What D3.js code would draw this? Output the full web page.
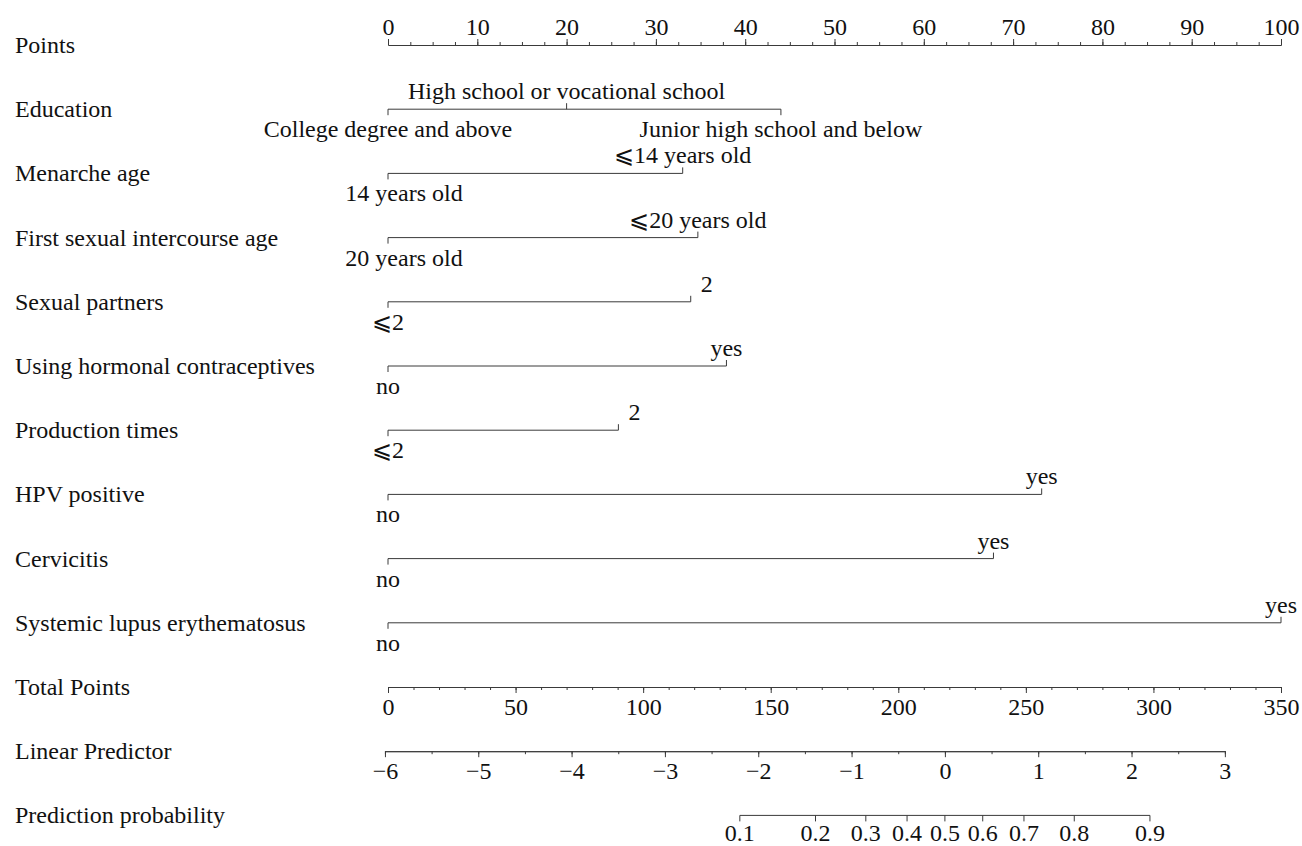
<!DOCTYPE html>
<html>
<head>
<meta charset="utf-8">
<script src="https://cdn.jsdelivr.net/npm/d3@7/dist/d3.min.js"></script>
<style>
  html, body { margin: 0; padding: 0; background: #fff; }
  svg text { font-family: "Liberation Serif", "Times New Roman", serif; fill: #111; }
</style>
</head>
<body>
<svg id="chart" width="1302" height="846"></svg>
<script>
// Nomogram: points per predictor level, total points, linear predictor, probability

const rowLabels = [
  "Points",
  "Education",
  "Menarche age",
  "First sexual intercourse age",
  "Sexual partners",
  "Using hormonal contraceptives",
  "Production times",
  "HPV positive",
  "Cervicitis",
  "Systemic lupus erythematosus",
  "Total Points",
  "Linear Predictor",
  "Prediction probability"
];

// Predictor levels: label, points, label side (above/below), hidden leading glyph
const educationLevels = [
  { label: "College degree and above", points: 0, side: "below" },
  { label: "High school or vocational school", points: 20, side: "above" },
  { label: "Junior high school and below", points: 44, side: "below" }
];
const menarcheLevels = [
  { label: "14 years old", points: 0, side: "below", pad: "\u2A7E\u2002" },
  { label: "\u2A7D14 years old", points: 33, side: "above" }
];
const firstSexLevels = [
  { label: "20 years old", points: 0, side: "below", pad: "\u2A7E\u2002" },
  { label: "\u2A7D20 years old", points: 34.7, side: "above" }
];
const partnersLevels = [
  { label: "\u2A7D2", points: 0, side: "below" },
  { label: "2", points: 33.9, side: "above", pad: "\u2A7E\u2002" }
];
const hormonalLevels = [
  { label: "no", points: 0, side: "below" },
  { label: "yes", points: 37.9, side: "above" }
];
const productionLevels = [
  { label: "\u2A7D2", points: 0, side: "below" },
  { label: "2", points: 25.8, side: "above", pad: "\u2A7E\u2002" }
];
const hpvLevels = [
  { label: "no", points: 0, side: "below" },
  { label: "yes", points: 73.2, side: "above" }
];
const cervicitisLevels = [
  { label: "no", points: 0, side: "below" },
  { label: "yes", points: 67.8, side: "above" }
];
const sleLevels = [
  { label: "no", points: 0, side: "below" },
  { label: "yes", points: 100, side: "above" }
];
const predictors = [
  educationLevels, menarcheLevels, firstSexLevels, partnersLevels, hormonalLevels,
  productionLevels, hpvLevels, cervicitisLevels, sleLevels
];

// Scale tick values
const pointsTicks = d3.range(0, 101, 10);
const pointsMinor = d3.range(0, 100.01, 2.5);
const totalTicks = d3.range(0, 351, 50);
const totalMinor = d3.range(0, 350.01, 10);
const lpTicks = d3.range(-6, 3.01, 1);
const lpMinor = d3.range(-6, 3.01, 0.5);
const probTicks = [0.1, 0.2, 0.3, 0.4, 0.5, 0.6, 0.7, 0.8, 0.9];

// Linear predictor expressed on the total-points scale
const lpDomain = [-6, 3];
const lpTotalPoints = [-1.2, 328.0];

const svg = d3.select("#chart");
const FONT = 24;
const rowY = d3.range(rowLabels.length).map(i => 45 + i * 64.2);

const x = d3.scaleLinear().domain([0, 100]).range([388, 1281]);
const xTotal = d3.scaleLinear().domain([0, 350]).range([388, 1281]);
const xLp = d3.scaleLinear().domain(lpDomain)
  .range(lpTotalPoints.map(v => xTotal(v)));
const xProb = p => xLp(Math.log(p / (1 - p)));

const stroke = "#3a3a3a";

// Row titles
svg.append("g").selectAll("text").data(rowLabels).join("text")
  .attr("x", 15)
  .attr("y", (d, i) => rowY[i] + 8)
  .attr("font-size", FONT)
  .text(d => d);

function styleAxis(g, showText) {
  g.selectAll(".domain").attr("stroke", stroke).attr("stroke-width", 1);
  g.selectAll(".tick line").attr("stroke", stroke).attr("stroke-width", 1);
  g.selectAll(".tick text")
    .attr("font-family", "Liberation Serif, Times New Roman, serif")
    .attr("font-size", FONT).attr("fill", "#111");
  if (!showText) g.selectAll(".tick text").remove();
  g.attr("font-family", null).attr("font-size", null);
}

// Points axis (top)
svg.append("g").attr("transform", `translate(0,${rowY[0]})`)
  .call(d3.axisTop(x).tickValues(pointsMinor).tickSize(3).tickSizeOuter(0).tickFormat(""))
  .call(g => styleAxis(g, false));
svg.append("g").attr("transform", `translate(0,${rowY[0]})`)
  .call(d3.axisTop(x).tickValues(pointsTicks).tickSize(6).tickSizeOuter(0).tickPadding(4))
  .call(g => styleAxis(g, true));

// Predictor rows
predictors.forEach((levels, i) => {
  const y = rowY[i + 1];
  const g = svg.append("g");
  const ext = d3.extent(levels, d => d.points);
  g.append("line")
    .attr("x1", x(ext[0])).attr("x2", x(ext[1]))
    .attr("y1", y).attr("y2", y)
    .attr("stroke", stroke).attr("stroke-width", 1);
  g.selectAll("line.tk").data(levels).join("line")
    .attr("class", "tk")
    .attr("x1", d => x(d.points)).attr("x2", d => x(d.points))
    .attr("y1", y)
    .attr("y2", d => d.side === "above" ? y - 6 : y + 6)
    .attr("stroke", stroke).attr("stroke-width", 1);
  const t = g.selectAll("text").data(levels).join("text")
    .attr("x", d => x(d.points))
    .attr("y", d => d.side === "above" ? y - 10 : y + 28)
    .attr("text-anchor", "middle")
    .attr("font-size", FONT);
  t.each(function(d) {
    const s = d3.select(this);
    if (d.pad) s.append("tspan").attr("fill-opacity", 0).text(d.pad);
    s.append("tspan").text(d.label);
  });
});

// Total points axis
const yTotal = rowY[10];
svg.append("g").attr("transform", `translate(0,${yTotal})`)
  .call(d3.axisBottom(xTotal).tickValues(totalMinor).tickSize(3).tickSizeOuter(0).tickFormat(""))
  .call(g => styleAxis(g, false));
svg.append("g").attr("transform", `translate(0,${yTotal})`)
  .call(d3.axisBottom(xTotal).tickValues(totalTicks).tickSize(6).tickSizeOuter(0).tickPadding(5))
  .call(g => styleAxis(g, true));

// Linear predictor axis
const yLp = rowY[11];
svg.append("g").attr("transform", `translate(0,${yLp})`)
  .call(d3.axisBottom(xLp).tickValues(lpMinor).tickSize(3).tickSizeOuter(0).tickFormat(""))
  .call(g => styleAxis(g, false));
svg.append("g").attr("transform", `translate(0,${yLp})`)
  .call(d3.axisBottom(xLp).tickValues(lpTicks).tickSize(6).tickSizeOuter(0).tickPadding(5)
    .tickFormat(d3.format("d")))
  .call(g => styleAxis(g, true));

// Prediction probability axis (logit of linear predictor)
const yProb = rowY[12];
const gp = svg.append("g").attr("transform", `translate(0,${yProb})`);
gp.append("line")
  .attr("x1", xProb(probTicks[0])).attr("x2", xProb(probTicks[probTicks.length - 1]))
  .attr("stroke", stroke).attr("stroke-width", 1);
gp.selectAll("line.tk").data(probTicks).join("line")
  .attr("class", "tk")
  .attr("x1", d => xProb(d)).attr("x2", d => xProb(d))
  .attr("y1", 0).attr("y2", 6)
  .attr("stroke", stroke).attr("stroke-width", 1);
gp.selectAll("text").data(probTicks).join("text")
  .attr("x", d => xProb(d))
  .attr("y", 26)
  .attr("text-anchor", "middle")
  .attr("font-size", FONT)
  .text(d => d3.format(".1f")(d));
</script>
</body>
</html>
